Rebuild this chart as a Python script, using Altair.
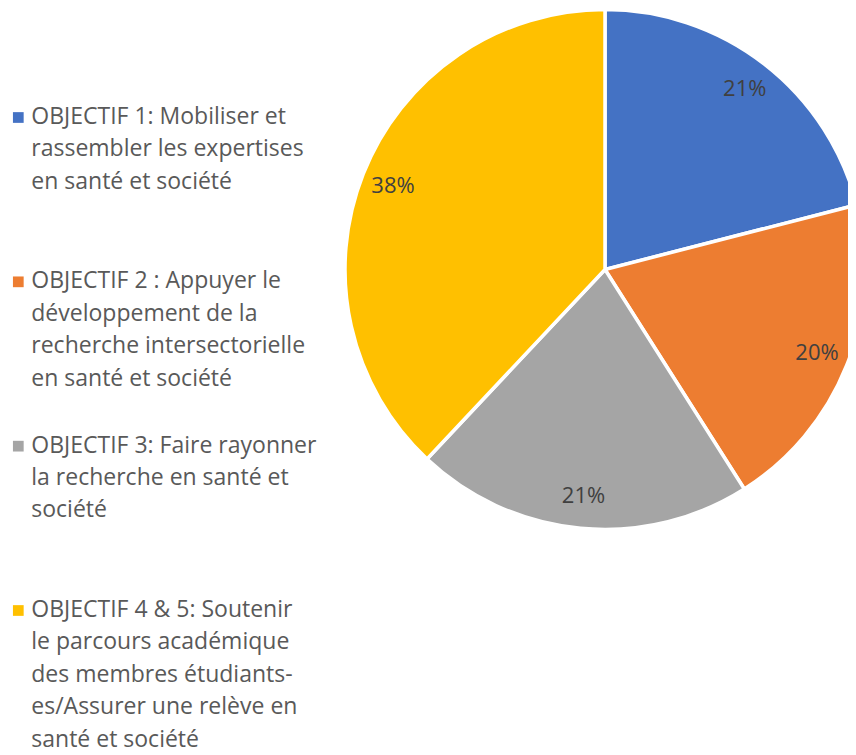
import altair as alt
import pandas as pd

FONT = "Open Sans"

categories = [
    "OBJECTIF 1",
    "OBJECTIF 2",
    "OBJECTIF 3",
    "OBJECTIF 4 & 5",
]
legend_texts = [
    "OBJECTIF 1: Mobiliser et\nrassembler les expertises\nen santé et société",
    "OBJECTIF 2 : Appuyer le\ndéveloppement de la\nrecherche intersectorielle\nen santé et société",
    "OBJECTIF 3: Faire rayonner\nla recherche en santé et\nsociété",
    "OBJECTIF 4 & 5: Soutenir\nle parcours académique\ndes membres étudiants-\nes/Assurer une relève en\nsanté et société",
]
values = [21, 20, 21, 38]
colors = ["#4472C4", "#ED7D31", "#A5A5A5", "#FFC000"]

df = pd.DataFrame({
    "cat": categories,
    "legend": legend_texts,
    "value": values,
    "idx": list(range(len(categories))),
})
df["label"] = df["value"].astype(str) + "%"

color = alt.Color("cat:N", scale=alt.Scale(domain=categories, range=colors), legend=None)
theta = alt.Theta("value:Q", stack=True)
order = alt.Order("idx:Q")

base = alt.Chart(df)

# pie centre / radius (layout)
CX, CY, R = 597, 261.5, 260

pie = base.mark_arc(outerRadius=R, stroke="white", strokeWidth=3.5).encode(
    theta=theta, color=color, order=order,
    x=alt.value(CX), y=alt.value(CY),
)
labels = base.mark_text(radius=228, font=FONT, fontSize=22, color="#404040").encode(
    theta=theta, order=order, text="label:N",
    x=alt.value(CX), y=alt.value(CY),
)

ly = alt.Y("idx:Q", scale=alt.Scale(domain=[0, 3], range=[116, 609]), axis=None)
leg_sq = base.mark_point(shape="square", filled=True, size=115, opacity=1,
                         yOffset=-6.5, strokeWidth=0).encode(
    x=alt.value(10.3), y=ly, color=color,
)
leg_txt = base.mark_text(
    align="left", baseline="alphabetic", lineBreak="\n", lineHeight=32.4,
    font=FONT, fontSize=23, color="#595959",
).encode(x=alt.value(23.3), y=ly, text="legend:N")

chart = alt.layer(pie, labels, leg_sq, leg_txt).properties(
    width=840, height=739, padding=0,
    autosize=alt.AutoSizeParams(type="none"),
).configure_view(stroke=None)

chart.save("out.html", embed_options={"renderer": "svg", "actions": False})
